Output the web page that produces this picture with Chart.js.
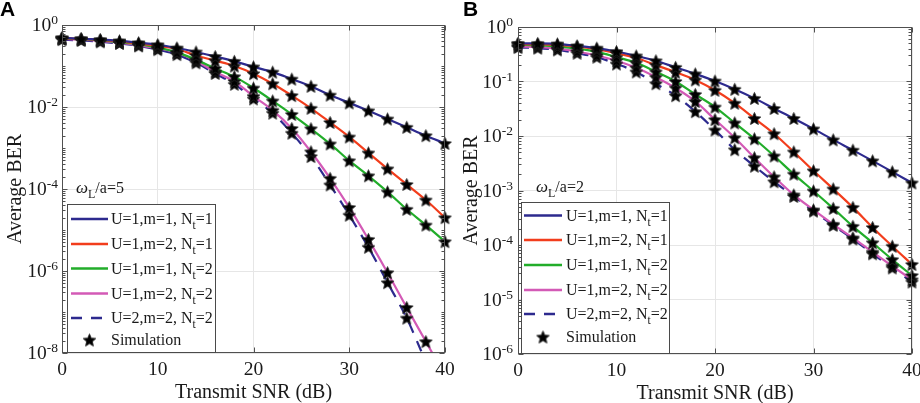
<!DOCTYPE html>
<html><head><meta charset="utf-8">
<script src="https://cdn.jsdelivr.net/npm/chart.js@4"></script>
<style>
html,body{margin:0;padding:0;background:#fff;}
#wrap{position:relative;width:920px;height:403px;overflow:hidden;}
.box{position:absolute;top:0;width:460px;height:403px;}
canvas{display:block;}
</style></head>
<body><div id="wrap">
<div class="box" style="left:0"><canvas id="cA" width="460" height="403"></canvas></div>
<div class="box" style="left:460px"><canvas id="cB" width="460" height="403"></canvas></div>
</div>
<script>
// ---------- data ----------
const snr = [0,2,4,6,8,10,12,14,16,18,20,22,24,26,28,30,32,34,36,38,40];
const xTickLabels = [0,10,20,30,40];

// Panel A : omega_L/a = 5
const berA_U1m1N1 = [4.9e-1,4.6e-1,4.4e-1,4.1e-1,3.7e-1,3.3e-1,2.75e-1,2.2e-1,1.7e-1,1.3e-1,9.5e-2,7.1e-2,4.8e-2,3.2e-2,1.95e-2,1.26e-2,8.1e-3,5.1e-3,3.2e-3,2.0e-3,1.29e-3];
const berA_U1m2N1 = [4.8e-1,4.6e-1,4.3e-1,4.0e-1,3.55e-1,3.1e-1,2.6e-1,1.8e-1,1.35e-1,1.0e-1,6.5e-2,3.7e-2,1.9e-2,9.3e-3,4.2e-3,1.86e-3,7.6e-4,3.1e-4,1.29e-4,5.4e-5,2.0e-5];
const berA_U1m1N2 = [4.7e-1,4.5e-1,4.2e-1,3.8e-1,3.4e-1,2.8e-1,2.15e-1,1.41e-1,8.7e-2,5.5e-2,2.9e-2,1.41e-2,6.6e-3,2.95e-3,1.26e-3,4.9e-4,2.1e-4,8.5e-5,3.2e-5,1.32e-5,5.2e-6];
const berA_U1m2N2 = [4.6e-1,4.4e-1,4.1e-1,3.7e-1,3.2e-1,2.7e-1,2.1e-1,1.32e-1,7.2e-2,4.2e-2,1.82e-2,8.3e-3,3.0e-3,8.1e-4,1.82e-4,3.55e-5,5.9e-6,9.1e-7,1.29e-7,1.9e-8,2.8e-9];
const berA_U2m2N2 = [4.4e-1,4.2e-1,3.9e-1,3.55e-1,3.1e-1,2.5e-1,1.9e-1,1.2e-1,6.6e-2,3.6e-2,1.58e-2,7.1e-3,2.3e-3,6.2e-4,1.26e-4,2.3e-5,3.8e-6,5.2e-7,7.1e-8,6.3e-9,7.9e-10];

// Panel B : omega_L/a = 2
const berB_U1m1N1 = [5.0e-1,5.0e-1,4.9e-1,4.5e-1,4.1e-1,3.55e-1,2.95e-1,2.4e-1,1.82e-1,1.38e-1,1.02e-1,7.2e-2,4.9e-2,3.2e-2,2.1e-2,1.35e-2,8.5e-3,5.5e-3,3.5e-3,2.2e-3,1.38e-3];
const berB_U1m2N1 = [4.9e-1,4.8e-1,4.7e-1,4.4e-1,3.9e-1,3.3e-1,2.7e-1,2.0e-1,1.48e-1,1.07e-1,6.9e-2,4.0e-2,2.1e-2,1.1e-2,5.1e-3,2.3e-3,1.07e-3,4.9e-4,2.1e-4,9.5e-5,4.4e-5];
const berB_U1m1N2 = [4.7e-1,4.6e-1,4.4e-1,4.0e-1,3.5e-1,2.8e-1,2.2e-1,1.5e-1,1.0e-1,5.8e-2,3.4e-2,1.74e-2,8.9e-3,4.3e-3,2.0e-3,9.8e-4,4.7e-4,2.2e-4,1.1e-4,5.4e-5,2.75e-5];
const berB_U1m2N2 = [4.4e-1,4.3e-1,4.0e-1,3.55e-1,3.0e-1,2.4e-1,1.78e-1,1.2e-1,7.6e-2,4.3e-2,2.0e-2,9.3e-3,4.0e-3,1.78e-3,8.3e-4,4.4e-4,2.4e-4,1.35e-4,7.4e-5,4.1e-5,2.3e-5];
const berB_U2m2N2 = [4.2e-1,4.1e-1,3.8e-1,3.3e-1,2.8e-1,2.1e-1,1.5e-1,9.1e-2,5.5e-2,2.8e-2,1.29e-2,5.6e-3,2.8e-3,1.45e-3,7.8e-4,4.2e-4,2.3e-4,1.29e-4,6.9e-5,3.8e-5,2.1e-5];

const legendMain = ['U=1,m=1, N','U=1,m=2, N','U=1,m=1, N','U=1,m=2, N','U=2,m=2, N'];
const legendSub  = ['t','t','t','t','t'];
const legendTail = ['=1','=1','=2','=2','=2'];
const simLabel = 'Simulation';

// ---------- styles ----------
const colors = ['#2d2a8e','#f23d1c','#22ad2a','#d35ab6','#2d2a8e'];
const dashes = [[],[],[],[],[11,9]];
const SERIF = "'Liberation Serif','Times New Roman',serif";

function makeStar(r){
  const s = Math.ceil(r*2+3);
  const c = document.createElement('canvas'); c.width=s; c.height=s;
  const g = c.getContext('2d');
  g.translate(s/2, s/2+0.6);
  g.beginPath();
  for(let i=0;i<10;i++){
    const rr = (i%2)? r*0.46 : r;
    const a = -Math.PI/2 + i*Math.PI/5;
    g.lineTo(rr*Math.cos(a), rr*Math.sin(a));
  }
  g.closePath();
  g.fillStyle='#000'; g.fill();
  g.strokeStyle='#222'; g.lineWidth=0.9; g.stroke();
  return c;
}
const star = makeStar(6.6);

function pts(arr){ return snr.map((x,i)=>({x:x, y:arr[i]})); }

function buildDatasets(series){
  const ds = [];
  series.forEach((arr,i)=>{
    ds.push({type:'line', data:pts(arr), borderColor:colors[i], borderWidth:2.2,
      borderDash:dashes[i], pointRadius:0, cubicInterpolationMode:'monotone',
      fill:false, order:2+i});
  });
  series.forEach((arr,i)=>{
    ds.push({type:'line', data:pts(arr), showLine:false, pointStyle:star,
      pointRadius:6, borderColor:'#000', backgroundColor:'#000', order:1,
      clip:{left:10,right:10,top:10,bottom:0}});
  });
  return ds;
}

function isMajorDecade(v, step){
  const l=Math.log10(v), r=Math.round(l);
  return Math.abs(l-r)<1e-6 && (((r%step)+step)%step)===0;
}

function makePlugin(cfg){
  return {
    id:'decor'+cfg.letter,
    afterDraw(chart){
      const ctx = chart.ctx, a = chart.chartArea, xs = chart.scales.x, ys = chart.scales.y;
      ctx.save();
      // frame
      ctx.strokeStyle='#505050'; ctx.lineWidth=1; ctx.setLineDash([]);
      const L=Math.round(a.left)+0.5, T=Math.round(a.top)+0.5, R=Math.round(a.right)-0.5, B=Math.round(a.bottom)-0.5;
      ctx.strokeRect(L,T,R-L,B-T);
      // y ticks (major + minor) on both sides
      const eMin = Math.round(Math.log10(ys.min)), eMax = Math.round(Math.log10(ys.max));
      ctx.beginPath();
      for(let e=eMin;e<=eMax;e++){
        for(let m=1;m<=9;m++){
          const v=m*Math.pow(10,e); if(v>ys.max*1.0001) break;
          const py=Math.round(ys.getPixelForValue(v))+0.5;
          const len = (m===1 && isMajorDecade(v,cfg.yStep))?5:3;
          ctx.moveTo(L,py); ctx.lineTo(L+len,py);
          ctx.moveTo(R,py); ctx.lineTo(R-len,py);
        }
      }
      xTickLabels.forEach(v=>{
        const px=Math.round(xs.getPixelForValue(v))+0.5;
        ctx.moveTo(px,B); ctx.lineTo(px,B-5);
        ctx.moveTo(px,T); ctx.lineTo(px,T+5);
      });
      ctx.stroke();

      // y tick labels 10^e
      ctx.fillStyle='#1a1a1a';
      for(let e=eMin;e<=eMax;e++){
        if(!isMajorDecade(Math.pow(10,e),cfg.yStep)) continue;
        const py=ys.getPixelForValue(Math.pow(10,e));
        const expTxt = String(e);
        ctx.font='13.5px '+SERIF;
        const ew = ctx.measureText(expTxt).width;
        const right = a.left - cfg.labGap;
        ctx.textAlign='left'; ctx.textBaseline='alphabetic';
        ctx.fillText(expTxt, right-ew, py-1);
        ctx.font='19.5px '+SERIF;
        ctx.textAlign='right'; ctx.textBaseline='middle';
        ctx.fillText('10', right-ew, py+1);
      }
      // x tick labels
      ctx.font='19.5px '+SERIF; ctx.textAlign='center'; ctx.textBaseline='middle';
      xTickLabels.forEach(v=>{
        ctx.fillText(String(v), xs.getPixelForValue(v), a.bottom+17);
      });
      // axis titles
      ctx.font='20px '+SERIF;
      ctx.fillText('Transmit SNR (dB)', (a.left+a.right)/2, a.bottom+40);
      ctx.save();
      ctx.translate(cfg.yTitleX, (a.top+a.bottom)/2);
      ctx.rotate(-Math.PI/2);
      ctx.fillText('Average BER', 0, 0);
      ctx.restore();
      // panel letter
      ctx.font="bold 21px 'Liberation Sans',Arial,sans-serif";
      ctx.textAlign='left'; ctx.textBaseline='top'; ctx.fillStyle='#000';
      ctx.fillText(cfg.letter, cfg.letterX, 0);

      // omega annotation
      ctx.fillStyle='#1a1a1a'; ctx.textBaseline='alphabetic';
      let ox = cfg.omegaX; const oy = cfg.omegaY;
      ctx.font='italic 17px '+SERIF; ctx.fillText('\u03c9', ox, oy); ox += ctx.measureText('\u03c9').width;
      ctx.font='12px '+SERIF; ctx.fillText('L', ox, oy+5); ox += ctx.measureText('L').width;
      ctx.font='16px '+SERIF; ctx.fillText('/a='+cfg.omegaVal, ox, oy);

      // legend box
      const lg = cfg.legend;
      ctx.fillStyle='#fff'; ctx.fillRect(lg.x0,lg.y0,lg.x1-lg.x0,lg.y1-lg.y0);
      ctx.strokeStyle='#4a4a4a'; ctx.lineWidth=1;
      ctx.strokeRect(lg.x0+0.5,lg.y0+0.5,lg.x1-lg.x0,lg.y1-lg.y0);
      for(let i=0;i<5;i++){
        const ry = lg.rows[i];
        ctx.strokeStyle=colors[i]; ctx.lineWidth=2.4; ctx.setLineDash(dashes[i]);
        ctx.beginPath(); ctx.moveTo(lg.lx0, ry); ctx.lineTo(lg.lx1, ry); ctx.stroke();
        ctx.setLineDash([]);
        ctx.fillStyle='#1a1a1a';
        let tx = lg.tx;
        ctx.font='16px '+SERIF; ctx.fillText(legendMain[i], tx, ry+5); tx += ctx.measureText(legendMain[i]).width;
        ctx.font='11.5px '+SERIF; ctx.fillText(legendSub[i], tx, ry+10); tx += ctx.measureText(legendSub[i]).width;
        ctx.font='16px '+SERIF; ctx.fillText(legendTail[i], tx, ry+5);
      }
      const sy = lg.rows[5];
      ctx.drawImage(star, (lg.lx0+lg.lx1)/2 - star.width/2, sy - star.height/2);
      ctx.fillStyle='#1a1a1a'; ctx.font='16px '+SERIF;
      ctx.fillText(simLabel, lg.tx, sy+5);
      ctx.restore();
    }
  };
}

function makeChart(id, series, yMin, pad, cfg){
  return new Chart(document.getElementById(id), {
    type:'line',
    data:{datasets:buildDatasets(series)},
    options:{
      responsive:false, animation:false, events:[],
      layout:{padding:pad},
      plugins:{legend:{display:false}, tooltip:{enabled:false}},
      scales:{
        x:{type:'linear', min:0, max:40,
          ticks:{display:false, stepSize:10},
          grid:{color:'#e6e6e6', lineWidth:1, drawTicks:false},
          border:{display:false}},
        y:{type:'logarithmic', min:yMin, max:1,
          ticks:{display:false, autoSkip:false},
          grid:{drawTicks:false, lineWidth:1,
            color:(c)=> (c.tick && isMajorDecade(c.tick.value, cfg.yStep)) ? '#e6e6e6' : 'rgba(0,0,0,0)'},
          border:{display:false}}
      }
    },
    plugins:[makePlugin(cfg)]
  });
}

makeChart('cA', [berA_U1m1N1,berA_U1m2N1,berA_U1m1N2,berA_U1m2N2,berA_U2m2N2], 1e-8,
  {left:62,right:15,top:25,bottom:50},
  {letter:'A', letterX:0, labGap:4, yStep:2, yTitleX:16, omegaX:76, omegaY:193, omegaVal:'5',
   legend:{x0:67,y0:204,x1:215,y1:352, rows:[219,244,268.5,293.5,318,340], lx0:71, lx1:108, tx:111}});

makeChart('cB', [berB_U1m1N1,berB_U1m2N1,berB_U1m1N2,berB_U1m2N2,berB_U2m2N2], 1e-6,
  {left:58,right:8,top:27,bottom:49},
  {letter:'B', letterX:3, labGap:5, yStep:1, yTitleX:12, omegaX:76, omegaY:192, omegaVal:'2',
   legend:{x0:61,y0:202,x1:209,y1:353, rows:[215.5,240,265,290,314,337], lx0:64, lx1:102, tx:106}});
</script>
</body></html>
